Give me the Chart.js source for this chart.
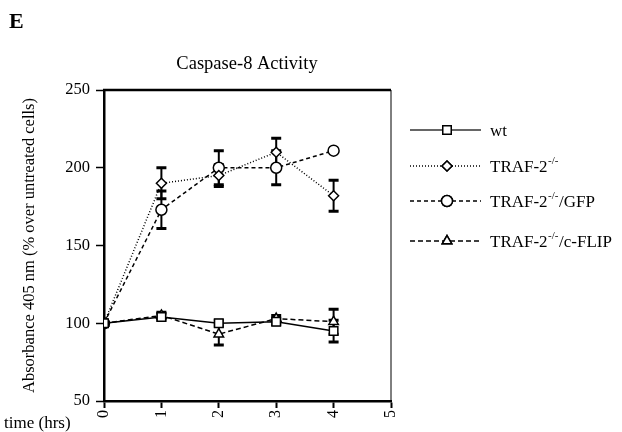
<!DOCTYPE html>
<html>
<head>
<meta charset="utf-8">
<script src="https://cdn.jsdelivr.net/npm/chart.js@4.4.1/dist/chart.umd.min.js"></script>
<style>
  html, body { margin: 0; padding: 0; background: #fff; }
  #wrap { width: 622px; height: 432px; position: relative; }
</style>
</head>
<body>
<div id="wrap"><canvas id="chart" width="622" height="432"></canvas></div>
<script>
// time points (hrs)
const hours = [0, 1, 2, 3, 4];

// absorbance, % over untreated cells
const wt = [100, 104, 100, 101, 95];
const wtErr = [0, 2, 2, 2, 7];
const traf = [100, 190, 195, 210, 182];
const trafErr = [0, 10, 7, 9, 10];
const gfp = [100, 173, 200, 200, 211];
const gfpErr = [0, 12, 11, 11, 0];
const flip = [100, 105, 93, 103, 101];
const flipErr = [0, 2, 7, 2, 8];

const yTicks = [50, 100, 150, 200, 250];
const xTicks = [0, 1, 2, 3, 4, 5];

const serif = "'Liberation Serif', 'DejaVu Serif', serif";

function points(vals) {
  return hours.map((h, i) => ({ x: h, y: vals[i] }));
}

function series(label, vals, errs, dash, style, radius) {
  return {
    label: label,
    data: points(vals),
    errors: errs,
    borderColor: '#000',
    borderWidth: 1.5,
    borderDash: dash,
    pointStyle: style,
    pointRadius: radius,
    pointBorderWidth: 1.5,
    pointBorderColor: '#000',
    pointBackgroundColor: '#fff',
    tension: 0,
    fill: false
  };
}

// error bars, drawn under the lines and markers
const errorBars = {
  id: 'errorBars',
  beforeDatasetsDraw(chart) {
    const ctx = chart.ctx;
    const xs = chart.scales.x, ys = chart.scales.y;
    ctx.save();
    ctx.strokeStyle = '#000';
    chart.data.datasets.forEach(ds => {
      ds.data.forEach((p, i) => {
        const e = ds.errors[i];
        if (!e) return;
        const px = xs.getPixelForValue(p.x);
        const top = ys.getPixelForValue(p.y + e);
        const bot = ys.getPixelForValue(p.y - e);
        ctx.lineWidth = 2;
        ctx.setLineDash([]);
        ctx.beginPath();
        ctx.moveTo(px, top); ctx.lineTo(px, bot);
        ctx.stroke();
        ctx.lineWidth = 3;
        ctx.beginPath();
        ctx.moveTo(px - 5, top); ctx.lineTo(px + 5, top);
        ctx.moveTo(px - 5, bot); ctx.lineTo(px + 5, bot);
        ctx.stroke();
      });
    });
    ctx.restore();
  }
};

// frame, headings and the hand drawn legend
const extras = {
  id: 'extras',
  afterDraw(chart) {
    const ctx = chart.ctx;
    const a = chart.chartArea;
    ctx.save();
    ctx.strokeStyle = '#000';
    ctx.setLineDash([]);
    ctx.lineWidth = 2.5;
    ctx.beginPath();
    ctx.moveTo(a.left - 1, a.top); ctx.lineTo(a.right, a.top);
    ctx.stroke();
    ctx.lineWidth = 1;
    ctx.beginPath();
    ctx.moveTo(a.right, a.top); ctx.lineTo(a.right, a.bottom);
    ctx.stroke();

    ctx.fillStyle = '#000';
    ctx.font = 'bold 22px ' + serif;
    ctx.textBaseline = 'alphabetic';
    ctx.textAlign = 'left';
    ctx.fillText('E', 9, 28);

    ctx.font = '18.5px ' + serif;
    ctx.textAlign = 'center';
    ctx.fillText('Caspase-8 Activity', 247, 69);

    ctx.font = '17px ' + serif;
    ctx.textAlign = 'left';
    ctx.fillText('time (hrs)', 4, 428);

    // legend
    const rows = [
      { y: 130, main: 'wt', sup: '', tail: '', ds: 0 },
      { y: 166, main: 'TRAF-2', sup: '-/-', tail: '', ds: 1 },
      { y: 201, main: 'TRAF-2', sup: '-/-', tail: '/GFP', ds: 2 },
      { y: 241, main: 'TRAF-2', sup: '-/-', tail: '/c-FLIP', ds: 3 }
    ];
    rows.forEach(r => {
      const ds = chart.data.datasets[r.ds];
      ctx.strokeStyle = r.ds === 0 ? '#333' : '#000';
      ctx.lineWidth = ds.borderWidth;
      ctx.setLineDash(ds.borderDash);
      ctx.beginPath();
      ctx.moveTo(410, r.y); ctx.lineTo(481, r.y);
      ctx.stroke();
      ctx.strokeStyle = '#000';
      ctx.setLineDash([]);
      ctx.lineWidth = 1.5;
      ctx.fillStyle = '#fff';
      Chart.helpers.drawPoint(ctx, { pointStyle: ds.pointStyle, radius: ds.pointRadius, rotation: 0, borderWidth: 1.5 }, 447, r.y);
      ctx.fill();
      ctx.stroke();

      ctx.fillStyle = '#000';
      ctx.font = '17px ' + serif;
      ctx.textAlign = 'left';
      let x = 490;
      const base = r.y + 6;
      ctx.fillText(r.main, x, base);
      x += ctx.measureText(r.main).width;
      if (r.sup) {
        ctx.font = '11px ' + serif;
        ctx.fillText(r.sup, x + 0.5, base - 8);
        x += ctx.measureText(r.sup).width + 1;
        ctx.font = '17px ' + serif;
      }
      ctx.fillText(r.tail, x, base);
    });
    ctx.restore();
  }
};

new Chart(document.getElementById('chart'), {
  type: 'line',
  data: {
    datasets: [
      series('wt', wt, wtErr, [], 'rect', 6),
      series('TRAF-2-/-', traf, trafErr, [1, 2], 'rectRot', 5),
      series('TRAF-2-/-/GFP', gfp, gfpErr, [4, 3], 'circle', 5.5),
      series('TRAF-2-/-/c-FLIP', flip, flipErr, [5, 3], 'triangle', 5.5)
    ]
  },
  options: {
    responsive: false,
    animation: false,
    layout: { padding: { top: 90, right: 231, bottom: 0, left: 0 } },
    plugins: {
      legend: { display: false },
      tooltip: { enabled: false },
      title: { display: false }
    },
    scales: {
      x: {
        type: 'linear',
        min: 0,
        max: 5,
        afterFit(scale) { scale.height = 31; },
        afterBuildTicks(scale) { scale.ticks = xTicks.map(v => ({ value: v })); },
        ticks: {
          color: '#000',
          font: { family: serif, size: 16 },
          minRotation: 90,
          maxRotation: 90,
          padding: 2
        },
        grid: { drawOnChartArea: false, tickLength: 7, color: '#000', tickWidth: 2 },
        border: { color: '#000', width: 2.5 }
      },
      y: {
        min: 50,
        max: 250,
        afterFit(scale) { scale.width = 104; },
        afterBuildTicks(scale) { scale.ticks = yTicks.map(v => ({ value: v })); },
        ticks: {
          color: '#000',
          font: { family: serif, size: 16.5 },
          padding: 6
        },
        grid: { drawOnChartArea: false, tickLength: 8, color: '#000', tickWidth: 1.5 },
        border: { color: '#000', width: 2.5 },
        title: {
          display: true,
          text: 'Absorbance 405 nm (% over untreated cells)',
          color: '#000',
          font: { family: serif, size: 16.5 },
          padding: { top: 20, bottom: 0 }
        }
      }
    }
  },
  plugins: [errorBars, extras]
});
</script>
</body>
</html>
